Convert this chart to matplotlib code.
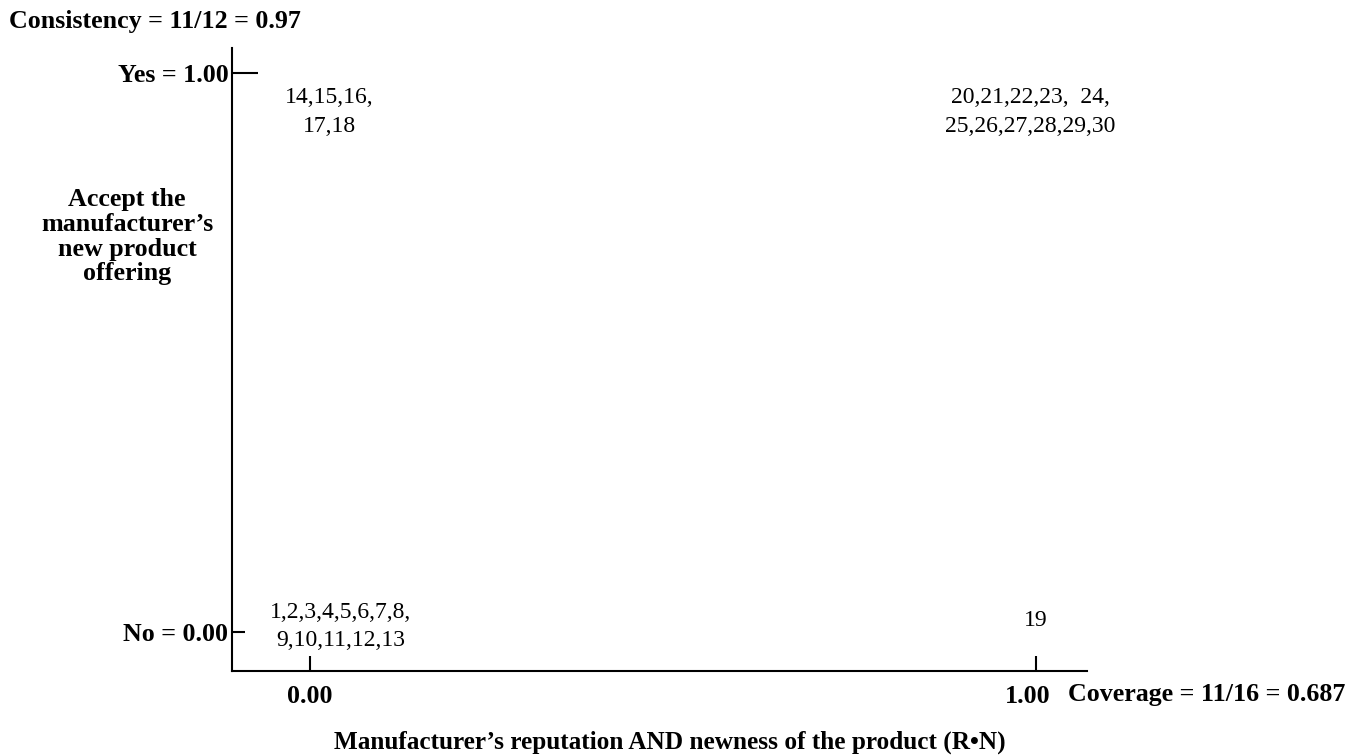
import matplotlib.pyplot as plt
from matplotlib.ticker import FixedLocator
from matplotlib.transforms import ScaledTranslation

# fsQCA XY plot: cases by condition (R*N) and outcome (accept)
x_vals = [0.0, 1.0, 0.0, 1.0]
y_vals = [1.0, 1.0, 0.0, 0.0]
case_labels = ['14,15,16,\n17,18',
               '20,21,22,23,  24,\n25,26,27,28,29,30',
               '1,2,3,4,5,6,7,8,\n9,10,11,12,13',
               '19']
label_offsets = [(14, -28), (-4, -28), (22, 4), (0, 8)]

x_ticks = [0.0, 1.0]
x_ticklabels = ['0.00', '1.00']
y_ticklabels = ['No = 0.00', 'Yes = 1.00']

consistency_text = 'Consistency = 11/12 = 0.97'
coverage_text = 'Coverage = 11/16 = 0.687'
x_title = 'Manufacturer\u2019s reputation AND newness of the product (R\u2022N)'
y_title = 'Accept the\nmanufacturer\u2019s\nnew product\noffering'

plt.rcParams['font.family'] = ['Liberation Serif', 'DejaVu Serif']

fig = plt.figure(figsize=(13.48, 7.55), dpi=100)
ax = fig.add_axes([0.1721, 0.1113, 0.6343, 0.8251])

for x, y, lab, off in zip(x_vals, y_vals, case_labels, label_offsets):
    ax.annotate(lab, xy=(x, y), xytext=off, textcoords='offset points',
                ha='center', va='center', fontsize=17, linespacing=1.45)

ax.set_xlim(-0.107, 1.070)
ax.set_ylim(-0.070, 1.045)

for s in ['top', 'right']:
    ax.spines[s].set_visible(False)
for s in ['left', 'bottom']:
    ax.spines[s].set_linewidth(1.5)

# y ticks: 1.00 long tick, 0.00 short tick (both pointing in)
ax.yaxis.set_major_locator(FixedLocator([1.0]))
ax.yaxis.set_minor_locator(FixedLocator([0.0]))
ax.set_yticklabels([y_ticklabels[1]])
ax.set_yticklabels([y_ticklabels[0]], minor=True)
ax.tick_params(axis='y', which='major', direction='in', length=19, width=1.5, pad=2,
               labelsize=18.7)
ax.tick_params(axis='y', which='minor', direction='in', length=9, width=1.5, pad=3,
               labelsize=18.7)
for t in ax.get_yticklabels(which='both'):
    t.set_fontweight('bold')

# x ticks
ax.set_xticks(x_ticks)
ax.set_xticklabels(x_ticklabels)
ax.tick_params(axis='x', which='major', direction='in', length=11, width=1.5, pad=10,
               labelsize=18.7)
for t in ax.get_xticklabels():
    t.set_fontweight('bold')
# the 1.00 label sits a little left of its tick
shift = ScaledTranslation(-8 / 100, 0, fig.dpi_scale_trans)
lab1 = ax.xaxis.get_major_ticks()[1].label1
lab1.set_transform(lab1.get_transform() + shift)

ax.set_xlabel(x_title, fontsize=18.2, fontweight='bold', va='center')
ax.xaxis.set_label_coords(0.512, -0.114)
ax.set_ylabel(y_title, fontsize=18.7, fontweight='bold', rotation=0,
              ha='center', va='center', linespacing=1.1)
ax.yaxis.set_label_coords(-0.1228, 0.697)

fig.text(0.007, 0.972, consistency_text, fontsize=18.7, fontweight='bold',
         ha='left', va='center')
fig.text(0.7923, 0.080, coverage_text, fontsize=18.7, fontweight='bold',
         ha='left', va='center')

fig.savefig('out.png', dpi=100)
